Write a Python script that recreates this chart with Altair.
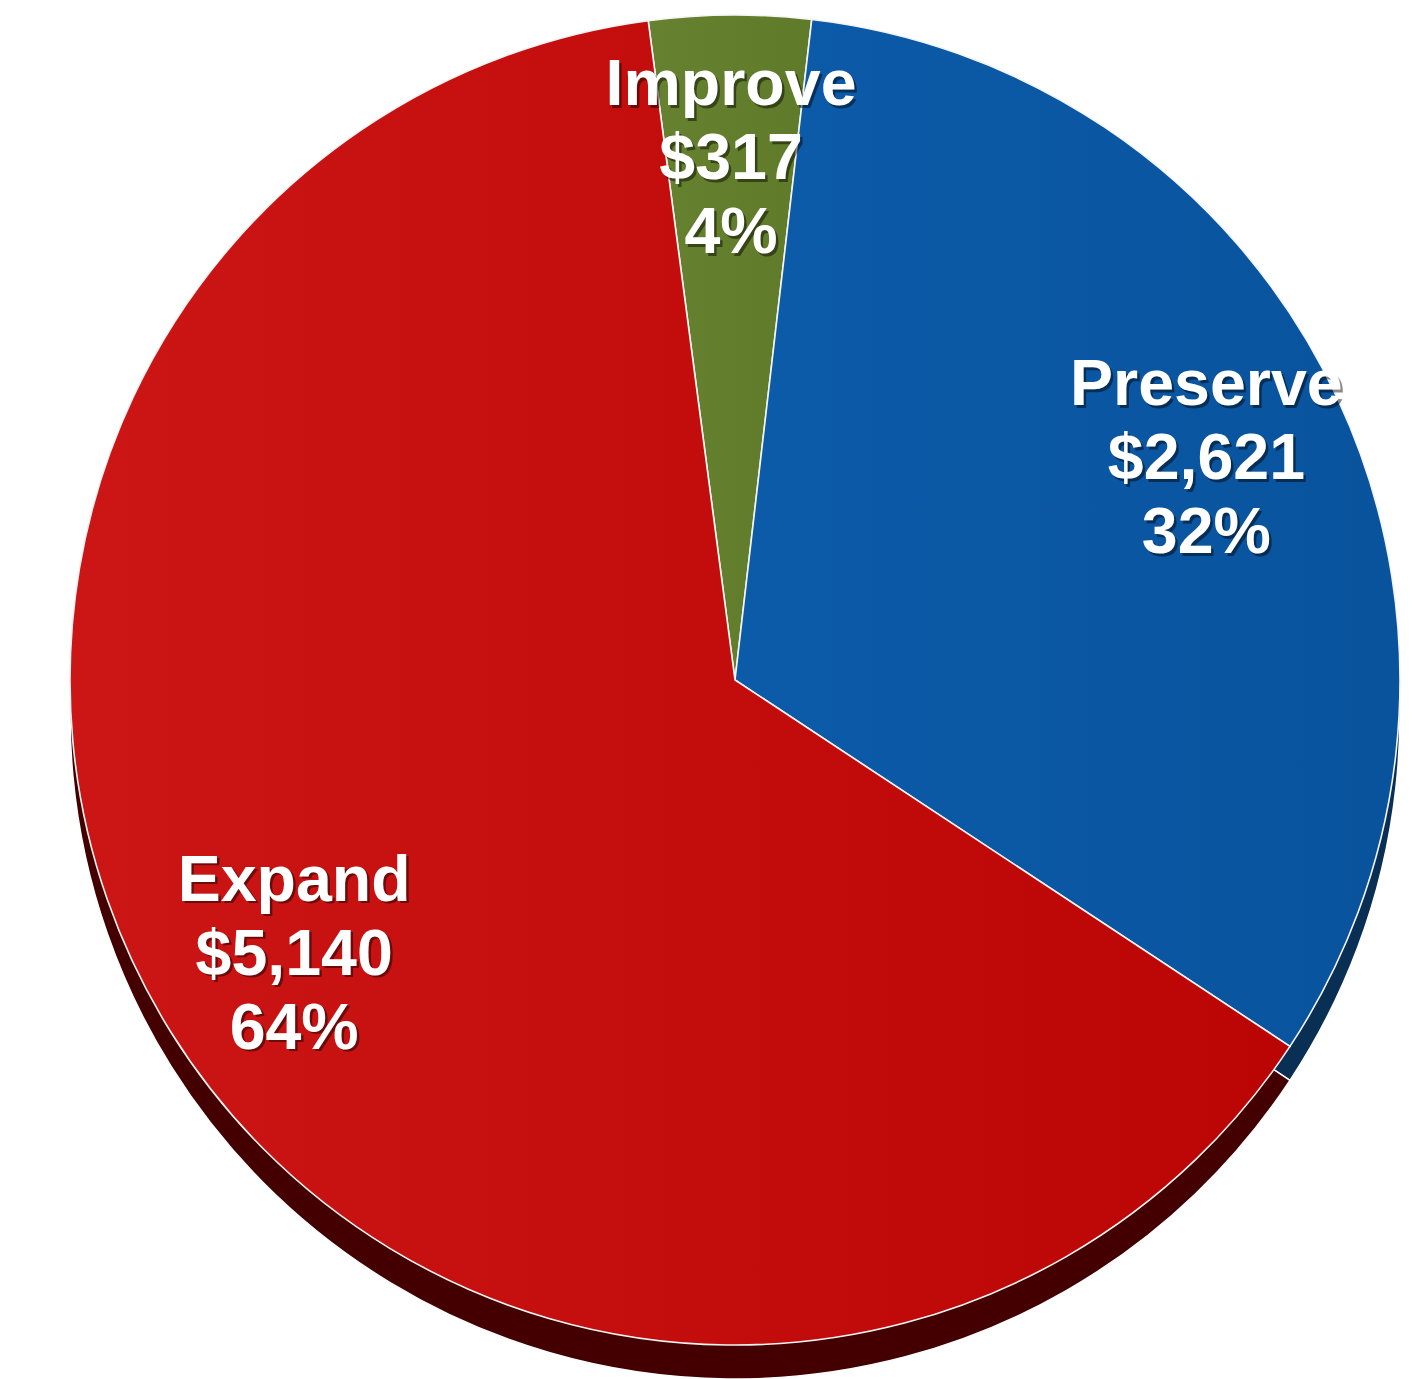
import math
import altair as alt
import pandas as pd

# Budget split by program category (values in $ millions)
categories = ["Improve", "Preserve", "Expand"]
amounts = [317, 2621, 5140]
shares = ["4%", "32%", "64%"]
face_light = ["#668230", "#0c5ba9", "#cc1616"]
face_dark = ["#5f7a28", "#09539d", "#bb0505"]
side_colors = ["#2f4214", "#0a2f55", "#440000"]

df = pd.DataFrame({
    "category": categories,
    "amount": amounts,
    "share": shares,
    "order": list(range(len(categories))),
})
df["label"] = [
    f"{c}\n${a:,}\n{s}" for c, a, s in zip(df["category"], df["amount"], df["share"])
]

W, H = 1424, 1379
CX, CY = 735, 680
R = 665
DEPTH = 34
LABEL_R = 520
LINE_H = 74

# rotate so the smallest slice sits centred at 12 o'clock
start = -math.radians(7.5)
theta_scale = alt.Scale(domain=[0, 1], range=[start, start + 2 * math.pi])

# cumulative start/end fraction of every slice, computed from the amounts
base = alt.Chart(df).transform_joinaggregate(
    total="sum(amount)"
).transform_window(
    cum="sum(amount)", sort=[alt.SortField("order")], frame=[None, 0]
).transform_calculate(
    t1="datum.cum / datum.total",
    t0="(datum.cum - datum.amount) / datum.total",
    tm="(datum.cum - datum.amount / 2) / datum.total",
)

arc_enc = dict(
    theta=alt.Theta("t0:Q", scale=theta_scale, stack=False),
    theta2="t1:Q",
    radius=alt.value(R),
    x=alt.value(CX),
)

# darker rim drawn lower to give the pie some thickness
side = base.mark_arc(stroke="#ffffff", strokeWidth=1.5).encode(
    color=alt.Color("category:N", scale=alt.Scale(domain=categories, range=side_colors), legend=None),
    y=alt.value(CY + DEPTH),
    **arc_enc,
)

# top face: one layer per slice so each can carry its own soft left-to-right shading
faces = []
for cat, light, dark in zip(categories, face_light, face_dark):
    grad = alt.LinearGradient(
        gradient="linear",
        stops=[alt.GradientStop(color=light, offset=0), alt.GradientStop(color=dark, offset=1)],
        x1=0, x2=1, y1=0, y2=0,
    )
    faces.append(
        base.transform_filter(alt.datum.category == cat)
        .mark_arc(fill=grad, stroke="#f4f4f4", strokeWidth=1.6)
        .encode(y=alt.value(CY), **arc_enc)
    )

text_style = dict(
    font="Liberation Sans",
    fontWeight="bold",
    fontSize=64.5,
    lineHeight=LINE_H,
    lineBreak="\n",
    align="center",
    baseline="middle",
)

text_enc = dict(
    text="label:N",
    theta=alt.Theta("tm:Q", scale=theta_scale, stack=False),
    radius=alt.value(LABEL_R),
    x=alt.value(CX),
    y=alt.value(CY),
)

# the middle line of each three-line label sits on the label anchor
shadow = base.mark_text(color="#000000", opacity=0.45, dx=2.5, dy=2.5 - LINE_H, **text_style).encode(**text_enc)
labels = base.mark_text(color="#ffffff", dy=-LINE_H, **text_style).encode(**text_enc)

chart = (
    alt.layer(side, *faces, shadow, labels)
    .properties(
        width=W,
        height=H,
        padding=0,
        autosize=alt.AutoSizeParams(type="fit", contains="padding"),
    )
    .configure_view(stroke=None)
)

chart.save("out.html", embed_options={"renderer": "svg", "actions": False})
